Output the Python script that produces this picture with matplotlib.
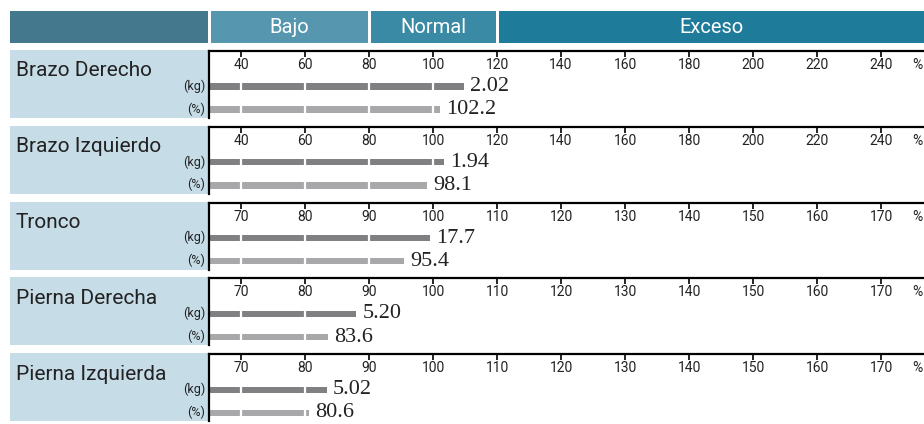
import matplotlib
matplotlib.use("Agg")
import matplotlib.pyplot as plt
from matplotlib.patches import Rectangle
import matplotlib.transforms as mtransforms

# segments and values
segments = ['Brazo Derecho', 'Brazo Izquierdo', 'Tronco', 'Pierna Derecha', 'Pierna Izquierda']
kg_labels = ['2.02', '1.94', '17.7', '5.20', '5.02']
kg_bar_pct = [109.7, 103.4, 99.5, 88.0, 83.4]   # where the kg bar ends on the % scale
pct_values = [102.2, 98.1, 95.4, 83.6, 80.6]

arm_ticks = [40, 60, 80, 100, 120, 140, 160, 180, 200, 220, 240]
body_ticks = [70, 80, 90, 100, 110, 120, 130, 140, 150, 160, 170]
scale_ticks = [arm_ticks, arm_ticks, body_ticks, body_ticks, body_ticks]
scale_xlim = [(30, 253.4), (30, 253.4), (65, 176.7), (65, 176.7), (65, 176.7)]

header_names = ['Bajo', 'Normal', 'Exceso']

W, H = 924, 424
NARROW = ['Liberation Sans Narrow', 'Roboto', 'DejaVu Sans']
SERIF = ['Liberation Serif', 'DejaVu Serif']

C_KG = '#808083'
C_PCT = '#a8a8aa'
C_BOX = '#c6dce7'
C_HEAD = ['#43788d', '#5696ae', '#3a8aa6', '#1f7b9a']

fig = plt.figure(figsize=(W / 100, H / 100), dpi=100)

# background layer in pixel coordinates
bg = fig.add_axes([0, 0, 1, 1])
bg.set_xlim(0, W)
bg.set_ylim(H, 0)
bg.axis('off')

# header bar
head_x = [(10, 208), (211, 368), (371, 496), (499, W)]
for (x0, x1), c in zip(head_x, C_HEAD):
    bg.add_patch(Rectangle((x0, 11), x1 - x0, 32, color=c, lw=0))
for (x0, x1), name in zip(head_x[1:], header_names):
    bg.text((x0 + x1) / 2, 27.5, name, color='white', ha='center', va='center',
            fontsize=14.5, family=NARROW)

row_h = 68
for i, name in enumerate(segments):
    top = 50 + i * 75.8
    bg.add_patch(Rectangle((10, top), 198, row_h, color=C_BOX, lw=0))
    bg.text(16, top + 21, name, ha='left', va='center', fontsize=15, family=NARROW,
            color='#222222')
    bg.text(205, top + 36, '(kg)', ha='right', va='center', fontsize=9, family=NARROW,
            color='#222222')
    bg.text(205, top + 59, '(%)', ha='right', va='center', fontsize=9, family=NARROW,
            color='#222222')

    # bar axes for this row
    ax = fig.add_axes([209 / W, 1 - (top + row_h) / H, (W - 209) / W, (row_h - 1) / H])
    xmin, xmax = scale_xlim[i]
    ax.set_xlim(xmin, xmax)
    ax.set_ylim(0, 1)
    for s in ['right', 'bottom']:
        ax.spines[s].set_visible(False)
    for s in ['top', 'left']:
        ax.spines[s].set_linewidth(1.6)
    ax.set_yticks([])
    ax.set_xticks(scale_ticks[i])
    ax.tick_params(axis='x', top=True, bottom=False, labeltop=False, labelbottom=False,
                   direction='in', length=4.5, width=1.2)
    trans = mtransforms.blended_transform_factory(ax.transData, ax.transAxes)
    for t in scale_ticks[i]:
        ax.text(t, 0.79, str(t), transform=trans, ha='center', va='center',
                fontsize=10, family=NARROW, color='#222222')
    ax.text(0.9985, 0.79, '%', transform=ax.transAxes, ha='right', va='center',
            fontsize=10, family=NARROW, color='#222222')

    y_kg, y_pct, bh = 0.47, 0.125, 0.095
    ax.barh(y_kg, kg_bar_pct[i] - xmin, left=xmin, height=bh, color=C_KG, lw=0, zorder=2)
    ax.barh(y_pct, pct_values[i] - xmin, left=xmin, height=bh, color=C_PCT, lw=0, zorder=2)
    for t in scale_ticks[i]:
        ax.axvline(t, ymin=0, ymax=0.6, color='white', lw=1.6, zorder=3)

    ax.annotate(kg_labels[i], (kg_bar_pct[i], y_kg), xytext=(4.5, 0), textcoords='offset points',
                ha='left', va='center', fontsize=16, family=SERIF, color='#222222')
    ax.annotate('%.1f' % pct_values[i], (pct_values[i], y_pct), xytext=(4.5, 0),
                textcoords='offset points', ha='left', va='center', fontsize=16,
                family=SERIF, color='#222222')

fig.savefig('out.png', dpi=100)
